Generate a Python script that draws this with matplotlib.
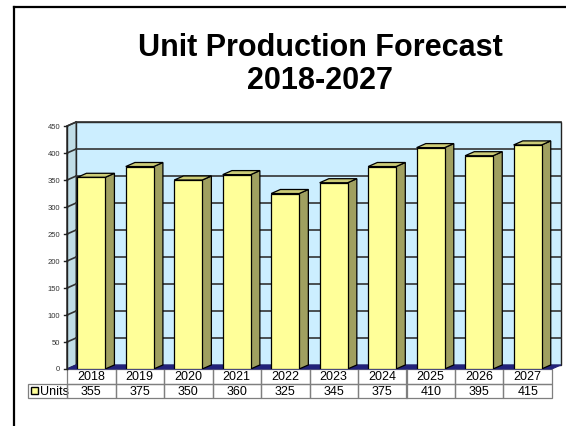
import matplotlib
matplotlib.use("Agg")
import matplotlib.pyplot as plt
from matplotlib.patches import Polygon, Rectangle
from matplotlib.lines import Line2D
import numpy as np

plt.rcParams['font.family'] = ['Liberation Sans', 'DejaVu Sans']

years = ["2018", "2019", "2020", "2021", "2022", "2023", "2024", "2025", "2026", "2027"]
units = [355, 375, 350, 360, 325, 345, 375, 410, 395, 415]
yticks = [0, 50, 100, 150, 200, 250, 300, 350, 400, 450]
series_name = "Units"
title = "Unit Production Forecast\n2018-2027"

# depth offset of the fake 3d (category units, value units)
DX = 0.19
DY = 7.5
bw = 0.577

wall_c = "#CCEEFF"
side_wall_c = "#C0DDE6"
floor_c = "#22227A"
bar_front = "#FFFF99"
bar_side = "#A0A060"
bar_top = "#CCCC77"

fig = plt.figure(figsize=(5.66, 4.27), dpi=100)
W, H = 566, 427
ax = fig.add_axes([67 / W, (H - 370) / H, (561 - 67) / W, (370 - 123) / H])
ax.set_xlim(-0.5, 9.5 + DX)
ax.set_ylim(0, yticks[-1] + DY)
ax.axis("off")

x0, x1 = -0.5, 9.5
ytop = yticks[-1]

# walls
ax.add_patch(Polygon([(x0 + DX, DY), (x1 + DX, DY), (x1 + DX, ytop + DY), (x0 + DX, ytop + DY)],
                     closed=True, fc=wall_c, ec="#222222", lw=1.0, zorder=1, clip_on=False))
ax.add_patch(Polygon([(x0, 0), (x0 + DX, DY), (x0 + DX, ytop + DY), (x0, ytop)],
                     closed=True, fc=side_wall_c, ec="#222222", lw=1.0, zorder=1, clip_on=False))
ax.add_patch(Polygon([(x0, 0), (x1, 0), (x1 + DX, DY), (x0 + DX, DY)],
                     closed=True, fc=floor_c, ec=floor_c, lw=0.8, zorder=2, clip_on=False))

# gridlines + ticks
for t in yticks[1:]:
    ax.plot([x0 + DX, x1 + DX], [t + DY, t + DY], color="#333333", lw=1.2, zorder=2, clip_on=False)
    ax.plot([x0, x0 + DX], [t, t + DY], color="#333333", lw=1.2, zorder=2, clip_on=False)
for t in yticks:
    ax.plot([x0 - 0.06, x0], [t, t], color="#222222", lw=1.0, zorder=2, clip_on=False)
    ax.text(x0 - 0.14, t, str(t), ha="right", va="center", fontsize=5.5, color="#333333")
ax.plot([x0, x0], [0, ytop], color="#222222", lw=1.0, zorder=2, clip_on=False)

# bars
x = np.arange(len(years))
ax.bar(x, units, width=bw, color=bar_front, edgecolor="black", lw=0.9, zorder=4)
for xi, v in zip(x, units):
    r = xi + bw / 2
    l = xi - bw / 2
    ax.add_patch(Polygon([(r, 0), (r + DX, DY), (r + DX, v + DY), (r, v)],
                         closed=True, fc=bar_side, ec="black", lw=0.9, zorder=3))
    ax.add_patch(Polygon([(l, v), (r, v), (r + DX, v + DY), (l + DX, v + DY)],
                         closed=True, fc=bar_top, ec="black", lw=0.9, zorder=3))

# data table
axw = 561 - 67
axh = 370 - 123
cell_text = [[""] + years, [series_name] + [str(u) for u in units]]
col_w = [39] + [48.5] * len(years)
tbl = ax.table(cellText=cell_text, colWidths=col_w, cellLoc="center",
               bbox=[(28 - 67) / axw, -29 / axh, (552 - 28) / axw, 29 / axh])
tbl.auto_set_font_size(False)
tbl.set_fontsize(9)
for (r, c), cell in tbl.get_celld().items():
    cell.set_edgecolor("#7f7f7f")
    cell.set_linewidth(0.9)
    cell.set_facecolor("none")
tbl[0, 0].visible_edges = ""
tbl[1, 0].get_text().set_text("    " + series_name)
tbl[1, 0].get_text().set_ha("center")
ax.add_patch(Rectangle(((31 - 67) / axw * (9.5 + DX + 0.5) - 0.5, -25 / axh * (ytop + DY)),
                       7 / axw * (10 + DX), 7 / axh * (ytop + DY),
                       fc=bar_front, ec="black", lw=1.0, clip_on=False, zorder=5))

# title
fig.text(320 / W, 1 - 64.5 / H, title, ha="center", va="center", fontsize=22,
         fontweight="bold", linespacing=1.15)

# chart frame (only top and left show)
fig.add_artist(Line2D([13.5 / W, 13.5 / W], [0, 1 - 8 / H], color="black", lw=1.6))
fig.add_artist(Line2D([13.5 / W, 1], [1 - 8 / H, 1 - 8 / H], color="black", lw=1.6))

fig.savefig("out.png", dpi=100)
